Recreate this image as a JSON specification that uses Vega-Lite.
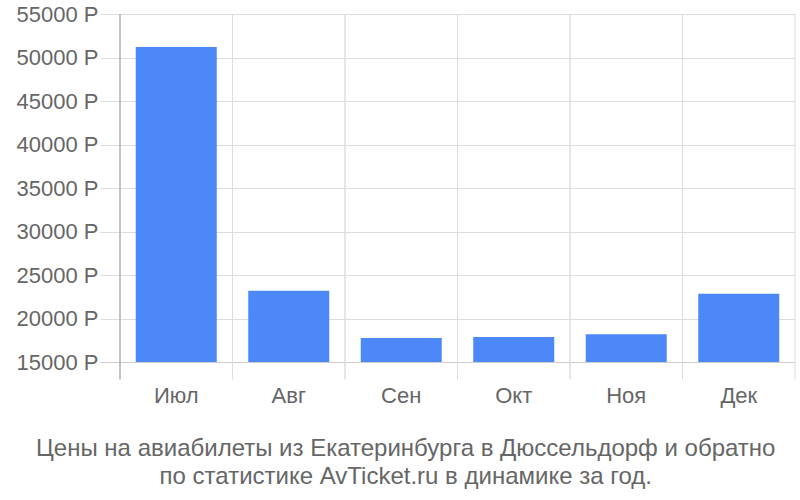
{
  "$schema": "https://vega.github.io/schema/vega-lite/v6.json",
  "autosize": {"type": "none"},
  "width": 675,
  "height": 348,
  "padding": {"left": 120, "top": 14, "right": 5, "bottom": 138},
  "background": "white",
  "title": {
    "text": ["Цены на авиабилеты из Екатеринбурга в Дюссельдорф и обратно", "по статистике AvTicket.ru в динамике за год."],
    "orient": "bottom",
    "anchor": "middle",
    "frame": "bounds",
    "offset": 31,
    "font": "Liberation Sans",
    "fontSize": 24,
    "fontWeight": "normal",
    "color": "#666666",
    "lineHeight": 28
  },
  "data": {
    "values": [
      {"month": "Июл", "price": 51200},
      {"month": "Авг", "price": 23200},
      {"month": "Сен", "price": 17760},
      {"month": "Окт", "price": 17870},
      {"month": "Ноя", "price": 18180},
      {"month": "Дек", "price": 22850}
    ]
  },
  "layer": [
    {
      "mark": {"type": "bar", "color": "#4d88f9"},
      "encoding": {
        "x": {
          "field": "month",
          "type": "nominal",
          "sort": null,
          "scale": {"paddingInner": 0.28, "paddingOuter": 0.14},
          "axis": {
            "title": null,
            "labelAngle": 0,
            "bandPosition": 0.5,
            "grid": false,
            "ticks": false,
            "domain": false,
            "labelPadding": 23,
            "labelFont": "Liberation Sans",
            "labelFontSize": 22,
            "labelColor": "#666666"
          }
        },
        "y": {
          "field": "price",
          "type": "quantitative",
          "scale": {"domain": [15000, 55000], "nice": false, "zero": false},
          "axis": {
            "title": null,
            "values": [15000, 20000, 25000, 30000, 35000, 40000, 45000, 50000, 55000],
            "labelExpr": "datum.value + ' Р'",
            "grid": true,
            "gridColor": {"condition": {"test": "datum.value == 15000", "value": "#cccccc"}, "value": "#dddddd"},
            "tickSize": 20,
            "tickColor": {"condition": {"test": "datum.value == 15000", "value": "#cccccc"}, "value": "#dddddd"},
            "domain": false,
            "labelPadding": 2,
            "labelFont": "Liberation Sans",
            "labelFontSize": 22,
            "labelColor": "#666666"
          }
        },
        "y2": {"datum": 15000}
      }
    },
    {
      "mark": {"type": "rule", "color": "#dddddd", "xOffset": -15.75},
      "encoding": {
        "x": {"field": "month", "type": "nominal", "sort": null, "bandPosition": 0},
        "y": {"datum": 55000},
        "y2": {"datum": 13000}
      }
    },
    {
      "mark": {"type": "rule", "color": "#dddddd", "xOffset": 15.75},
      "encoding": {
        "x": {"field": "month", "type": "nominal", "sort": null, "bandPosition": 1},
        "y": {"datum": 55000},
        "y2": {"datum": 13000}
      }
    },
    {
      "transform": [{"filter": "datum.month == 'Июл'"}],
      "mark": {"type": "rule", "color": "#999999", "xOffset": -15.75},
      "encoding": {
        "x": {"field": "month", "type": "nominal", "sort": null, "bandPosition": 0},
        "y": {"datum": 55000},
        "y2": {"datum": 13000}
      }
    }
  ],
  "config": {"view": {"stroke": null}}
}
